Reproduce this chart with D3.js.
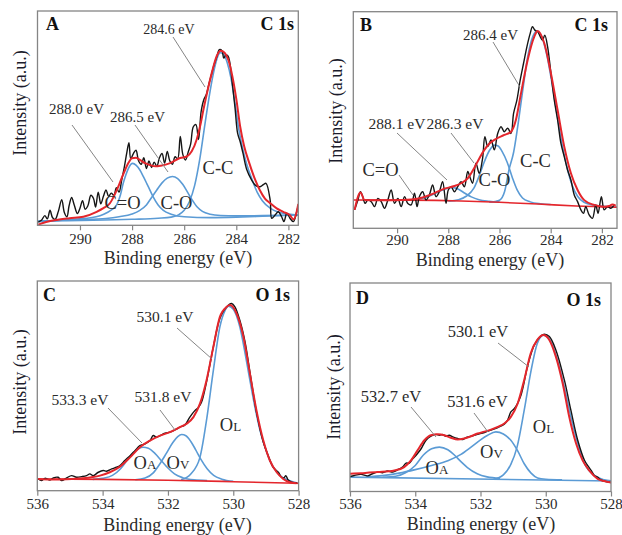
<!DOCTYPE html>
<html>
<head>
<meta charset="utf-8">
<script src="https://cdn.jsdelivr.net/npm/d3@7"></script>
<style>
  body { margin: 0; background: #fff; }
  svg { font-family: "Liberation Serif", "Times New Roman", serif; }
</style>
</head>
<body>
<svg width="622" height="535"></svg>
<script>
// ---- data: [binding energy (eV), intensity (a.u., 0-100 of the frame)] ----
const ticksC1s = [290, 288, 286, 284, 282];
const ticksO1s = [536, 534, 532, 530, 528];

// A: C 1s
const rawA = [[291.60,1.5],[291.47,2.5],[291.35,4.5],[291.25,3.0],[291.15,7.0],[291.05,3.5],[290.95,2.8],[290.83,6.5],[290.70,12.0],[290.60,6.0],[290.50,4.0],[290.42,9.0],[290.32,13.0],[290.22,9.5],[290.10,5.5],[290.00,8.0],[289.90,11.5],[289.80,7.5],[289.70,9.0],[289.58,14.0],[289.48,12.5],[289.40,8.5],[289.30,15.5],[289.20,10.0],[289.10,13.5],[289.00,16.5],[288.90,13.5],[288.80,15.0],[288.70,14.0],[288.60,17.5],[288.50,15.5],[288.40,21.0],[288.30,27.0],[288.20,34.0],[288.12,38.5],[288.05,31.0],[287.95,33.5],[287.85,35.0],[287.75,30.0],[287.65,28.5],[287.55,31.5],[287.45,26.5],[287.35,30.0],[287.25,27.0],[287.15,29.5],[287.05,27.5],[286.95,31.5],[286.85,33.5],[286.75,29.0],[286.65,34.5],[286.55,30.0],[286.45,28.5],[286.35,32.0],[286.25,31.0],[286.15,41.5],[286.05,33.0],[285.95,30.5],[285.85,34.0],[285.75,38.0],[285.65,46.0],[285.55,47.0],[285.45,40.0],[285.35,53.0],[285.25,58.5],[285.15,61.0],[285.05,66.0],[284.95,70.5],[284.85,75.0],[284.75,78.5],[284.65,82.0],[284.55,81.5],[284.48,78.0],[284.40,79.5],[284.32,79.0],[284.25,76.0],[284.15,66.0],[284.05,55.0],[283.95,43.0],[283.85,39.0],[283.75,34.0],[283.60,26.0],[283.41,21.1],[283.25,18.5],[283.09,18.0],[282.96,19.0],[282.86,19.6],[282.70,11.8],[282.64,3.3],[282.51,4.8],[282.39,6.3],[282.26,4.0],[282.17,1.7],[282.06,5.6],[281.94,3.3],[281.81,1.7],[281.68,6.3],[281.62,9.5]];
const fitA = [[291.60,0.3],[291.30,1.5],[290.90,2.5],[290.40,3.3],[289.87,4.0],[289.36,6.3],[289.10,8.0],[288.85,10.3],[288.70,13.5],[288.53,18.0],[288.40,22.0],[288.27,25.8],[288.12,29.5],[288.01,31.3],[287.85,31.5],[287.70,30.5],[287.50,29.0],[287.31,28.1],[287.10,27.5],[286.90,27.8],[286.54,29.0],[286.16,31.4],[285.90,32.1],[285.71,34.5],[285.52,40.0],[285.39,46.2],[285.26,54.0],[285.10,63.0],[284.90,73.0],[284.75,79.0],[284.60,81.5],[284.45,80.5],[284.30,77.0],[284.15,69.5],[284.00,59.0],[283.85,46.0],[283.70,37.0],[283.50,29.0],[283.30,22.0],[283.10,16.5],[282.90,12.5],[282.70,10.3],[282.45,7.9],[282.20,6.3],[281.95,4.8],[281.80,2.8],[281.70,5.5],[281.62,10.0]];
const coA = [[291.60,1.7],[290.80,2.3],[290.00,3.0],[289.60,3.5],[289.23,4.5],[288.95,6.0],[288.75,7.5],[288.59,9.5],[288.45,14.0],[288.34,19.6],[288.24,23.5],[288.14,26.6],[287.98,28.9],[287.84,28.0],[287.70,25.8],[287.57,22.8],[287.44,19.6],[287.31,16.3],[287.19,13.3],[287.00,9.5],[286.80,7.0],[286.50,5.2],[286.00,4.0],[285.00,3.6],[284.00,3.8],[283.00,4.2],[281.62,4.8]];
const cOA = [[291.60,2.0],[290.00,2.6],[289.00,3.2],[288.50,4.0],[288.00,5.3],[287.70,7.0],[287.45,9.5],[287.25,13.0],[287.05,16.5],[286.85,19.8],[286.65,22.0],[286.45,22.8],[286.25,21.8],[286.05,19.0],[285.85,15.0],[285.70,12.0],[285.50,8.5],[285.30,6.5],[285.00,5.2],[284.60,4.6],[284.00,4.4],[283.00,4.5],[281.62,4.8]];
const ccA = [[291.60,2.0],[288.00,2.8],[287.00,3.3],[286.50,3.8],[286.20,5.0],[286.00,7.0],[285.80,11.0],[285.60,18.5],[285.40,31.0],[285.20,47.5],[285.00,63.0],[284.85,72.5],[284.72,78.5],[284.62,80.5],[284.50,80.0],[284.35,76.0],[284.20,68.5],[284.05,57.0],[283.90,44.5],[283.75,35.5],[283.60,28.5],[283.40,21.5],[283.20,15.5],[283.00,11.5],[282.70,8.0],[282.40,6.2],[282.00,5.2],[281.62,4.8]];

// B: C 1s
const rawB = [[291.66,8.5],[291.53,13.1],[291.43,16.9],[291.34,14.6],[291.25,11.5],[291.14,13.1],[291.01,12.3],[290.88,10.0],[290.75,13.8],[290.62,12.3],[290.49,9.2],[290.36,13.1],[290.23,17.7],[290.10,11.5],[289.97,13.8],[289.84,10.0],[289.71,14.6],[289.58,11.5],[289.45,10.8],[289.32,16.2],[289.22,10.0],[289.13,14.6],[289.00,16.9],[288.87,13.1],[288.74,15.4],[288.61,20.0],[288.48,14.6],[288.35,16.9],[288.22,21.5],[288.09,11.5],[288.00,17.7],[287.89,19.2],[287.76,16.9],[287.63,19.2],[287.50,21.5],[287.37,19.2],[287.24,26.2],[287.14,23.1],[287.05,20.8],[286.92,30.0],[286.79,25.4],[286.66,32.3],[286.57,42.3],[286.46,37.7],[286.33,40.8],[286.20,36.2],[286.07,43.8],[285.94,46.9],[285.81,44.6],[285.68,46.2],[285.55,43.8],[285.45,53.1],[285.32,59.2],[285.19,68.5],[285.06,76.2],[284.93,83.8],[284.80,90.0],[284.71,93.1],[284.62,91.5],[284.51,90.8],[284.41,88.5],[284.32,86.9],[284.23,89.2],[284.12,83.8],[283.99,71.5],[283.86,59.2],[283.73,50.0],[283.60,39.2],[283.47,33.1],[283.34,26.9],[283.21,22.3],[283.08,15.4],[282.95,12.3],[282.82,8.5],[282.72,6.9],[282.63,10.0],[282.50,6.2],[282.37,4.6],[282.24,10.8],[282.15,6.9],[282.02,14.6],[281.91,8.5],[281.78,10.0],[281.65,9.2],[281.52,10.8]];
const fitB = [[291.66,8.5],[291.43,16.5],[291.27,13.1],[290.75,13.0],[290.10,13.0],[289.45,13.3],[289.00,14.2],[288.80,15.0],[288.50,16.5],[288.15,18.3],[287.76,19.5],[287.50,20.8],[287.24,23.1],[286.98,28.0],[286.80,32.0],[286.59,36.2],[286.40,39.0],[286.20,40.8],[285.81,43.1],[285.55,44.6],[285.36,50.0],[285.16,62.3],[284.90,77.7],[284.64,88.5],[284.51,91.1],[284.25,85.4],[283.99,71.5],[283.73,54.6],[283.47,37.7],[283.21,25.4],[282.95,17.7],[282.69,13.0],[282.30,10.8],[281.91,10.0],[281.72,10.3],[281.59,11.0],[281.46,10.5]];
const baseB = [[291.70,13.1],[289.50,13.0],[287.50,12.6],[286.00,12.0],[284.50,11.2],[283.00,10.3],[281.40,9.7]];
const coB = [[289.60,13.0],[289.20,13.4],[288.90,14.2],[288.60,15.6],[288.30,17.3],[288.00,18.6],[287.85,18.9],[287.60,18.0],[287.35,16.2],[287.10,14.5],[286.80,13.2],[286.40,12.5],[286.00,12.1]];
const cOB = [[288.00,12.5],[287.60,13.2],[287.30,14.8],[287.00,18.5],[286.80,24.0],[286.60,30.5],[286.40,35.8],[286.20,38.4],[286.05,38.0],[285.90,35.5],[285.70,30.5],[285.50,23.5],[285.30,17.5],[285.10,14.0],[284.80,12.2],[284.40,11.3],[284.00,11.0]];
const ccB = [[286.40,12.0],[286.00,13.0],[285.80,17.0],[285.62,27.5],[285.45,35.0],[285.30,46.0],[285.10,63.0],[284.90,79.0],[284.70,88.5],[284.54,91.0],[284.35,88.5],[284.15,80.0],[283.95,67.0],[283.75,52.5],[283.55,38.5],[283.35,27.5],[283.15,19.5],[282.95,14.8],[282.70,12.0],[282.30,10.6],[281.80,10.0],[281.40,9.7]];

// C: O 1s
const rawC = [[535.97,5.6],[535.87,4.8],[535.77,5.9],[535.61,5.1],[535.51,6.1],[535.36,6.4],[535.26,4.8],[535.10,6.1],[534.95,7.2],[534.80,6.4],[534.64,6.7],[534.49,7.2],[534.39,8.0],[534.29,7.2],[534.13,8.8],[533.98,9.6],[533.88,9.3],[533.72,10.4],[533.57,11.2],[533.47,12.0],[533.32,14.4],[533.16,16.7],[533.01,19.1],[532.86,21.5],[532.70,22.3],[532.55,23.9],[532.45,26.3],[532.35,25.5],[532.24,26.3],[532.09,27.4],[531.94,27.9],[531.79,29.0],[531.63,30.3],[531.48,31.4],[531.33,35.1],[531.17,38.3],[531.07,39.6],[530.97,42.3],[530.82,51.8],[530.61,68.6],[530.41,82.1],[530.22,87.4],[530.05,89.3],[529.95,87.7],[529.80,81.3],[529.64,71.0],[529.49,56.6],[529.29,37.5],[529.08,23.1],[528.93,16.7],[528.78,11.2],[528.62,8.8],[528.52,6.4],[528.45,6.1],[528.39,7.2],[528.32,5.1],[528.21,4.1],[528.06,3.8]];
const fitC = [[535.97,5.6],[535.60,5.4],[535.10,5.5],[534.60,5.9],[534.30,6.5],[534.08,7.2],[533.78,8.8],[533.47,11.5],[533.16,15.9],[532.86,20.7],[532.55,23.9],[532.24,26.3],[531.94,27.9],[531.63,30.3],[531.43,31.9],[531.22,35.1],[531.02,41.5],[530.82,52.6],[530.61,68.6],[530.41,82.9],[530.20,87.7],[530.10,88.5],[529.90,84.5],[529.69,73.4],[529.49,55.8],[529.29,38.3],[529.08,23.9],[528.88,14.4],[528.67,8.8],[528.47,5.6],[528.27,4.0],[528.06,3.5]];
const baseC = [[536.00,5.6],[534.00,5.4],[532.00,5.0],[530.00,4.3],[528.00,3.5]];
const oaC = [[534.30,5.4],[534.00,5.9],[533.70,7.3],[533.45,10.5],[533.25,14.5],[533.05,18.2],[532.90,20.0],[532.76,20.7],[532.60,20.2],[532.40,17.8],[532.20,14.3],[532.00,10.8],[531.80,8.0],[531.55,6.2],[531.20,5.2],[530.80,4.9]];
const ovC = [[533.00,5.2],[532.70,6.0],[532.45,8.5],[532.24,13.0],[532.05,17.8],[531.85,23.0],[531.70,25.8],[531.58,26.8],[531.45,26.2],[531.30,23.5],[531.15,19.5],[531.00,15.2],[530.80,10.5],[530.60,7.3],[530.35,5.5],[530.00,4.5]];
const olC = [[531.60,5.2],[531.30,8.0],[531.02,15.9],[530.82,33.5],[530.61,57.4],[530.41,78.1],[530.25,86.0],[530.15,88.0],[530.00,86.5],[529.80,78.1],[529.65,66.5],[529.49,52.6],[529.30,37.0],[529.18,28.7],[529.00,19.5],[528.88,14.4],[528.57,7.2],[528.27,4.8],[528.00,3.5]];

// D: O 1s
const rawD = [[536.00,7.2],[535.87,7.7],[535.66,8.2],[535.46,7.5],[535.31,8.5],[535.15,9.3],[535.00,9.0],[534.85,9.8],[534.69,9.3],[534.54,10.4],[534.39,11.7],[534.28,13.6],[534.18,13.6],[534.08,15.7],[533.98,17.3],[533.82,20.5],[533.67,24.6],[533.52,26.5],[533.36,27.4],[533.26,27.0],[533.16,27.3],[533.06,26.5],[532.96,27.0],[532.85,26.2],[532.70,25.4],[532.55,24.9],[532.45,25.8],[532.29,26.5],[532.09,27.4],[531.88,28.3],[531.68,29.4],[531.47,30.7],[531.27,32.3],[531.17,34.2],[531.07,38.2],[530.96,39.8],[530.76,46.2],[530.56,59.9],[530.35,70.3],[530.15,74.6],[530.04,75.4],[529.89,74.3],[529.69,67.9],[529.43,53.5],[529.23,39.0],[529.02,24.6],[528.81,14.9],[528.61,10.1],[528.51,7.7],[528.41,6.9],[528.31,5.6],[528.21,5.0],[528.00,4.3]];
const fitD = [[536.00,8.5],[535.66,8.8],[535.15,9.3],[534.64,10.1],[534.34,11.7],[534.13,14.9],[533.93,19.7],[533.72,24.6],[533.52,27.0],[533.31,27.4],[533.11,27.0],[532.91,25.8],[532.70,24.9],[532.50,25.4],[532.29,26.5],[532.09,27.8],[531.88,28.7],[531.68,29.7],[531.47,31.0],[531.27,32.6],[531.07,35.8],[530.86,42.2],[530.66,53.5],[530.46,66.3],[530.26,72.7],[530.07,75.1],[529.89,72.7],[529.69,64.7],[529.48,51.8],[529.28,35.8],[529.07,23.0],[528.87,14.9],[528.67,10.1],[528.41,6.1],[528.21,5.0],[528.00,4.3]];
const baseD = [[536.00,6.9],[528.00,5.0]];
const oaD = [[535.00,6.8],[534.60,7.3],[534.30,9.0],[534.00,12.5],[533.75,17.5],[533.50,20.5],[533.26,21.3],[533.00,20.0],[532.80,17.5],[532.60,14.3],[532.40,11.5],[532.10,8.5],[531.80,7.0],[531.40,6.3]];
const ovD = [[535.50,7.0],[535.00,7.6],[534.50,8.8],[534.00,10.5],[533.50,12.5],[533.00,14.8],[532.60,17.8],[532.29,21.3],[532.00,24.8],[531.78,27.0],[531.53,28.6],[531.30,27.6],[531.07,24.6],[530.86,19.5],[530.66,13.3],[530.45,8.8],[530.25,6.5],[530.00,5.9],[529.50,5.6]];
const olD = [[531.60,5.9],[531.30,8.0],[531.07,13.0],[530.88,21.3],[530.66,39.0],[530.45,58.0],[530.26,71.0],[530.07,75.0],[529.84,71.9],[529.64,63.0],[529.43,50.0],[529.23,35.8],[529.02,23.0],[528.81,13.3],[528.51,7.7],[528.21,5.6],[528.00,5.1]];

const peakLabelsA = ['284.6 eV', '288.0 eV', '286.5 eV'];
const peakLabelsB = ['286.4 eV', '288.1 eV', '286.3 eV'];
const peakLabelsC = ['530.1 eV', '533.3 eV', '531.8 eV'];
const peakLabelsD = ['530.1 eV', '532.7 eV', '531.6 eV'];

// ---- layout ----
const RED = '#e4262c', BLUE = '#5b9bd5', BLACK = '#151515', GREY = '#858585', TXT = '#2a2a2a';

const panels = [
  { letter: 'A', title: 'C 1s', box: [37.5, 11, 298.3, 225.3], domain: [291.63, 281.62], ticks: ticksC1s,
    raw: rawA, fit: fitA, comps: [coA, cOA, ccA], base: null, pad: 3,
    titleXY: [46, 30, 294, 30], ylab: [20, 103], xlab: [178, 258],
    peaks: [{ t: peakLabelsA[0], x: 169, y: 29, s: 14, l: [173, 37, 205, 87] },
            { t: peakLabelsA[1], x: 76.5, y: 109, s: 15, l: [72, 125, 113, 182] },
            { t: peakLabelsA[2], x: 137.5, y: 117, s: 15, l: [135, 125, 168, 172] }],
    names: [{ t: 'C-C', x: 218, y: 168 }, { t: 'C=O', x: 122.5, y: 203 }, { t: 'C-O', x: 176.5, y: 203 }] },
  { letter: 'B', title: 'C 1s', box: [353.3, 11.7, 617, 228.3], domain: [291.71, 281.41], ticks: ticksC1s,
    raw: rawB, fit: fitB, comps: [coB, cOB, ccB], base: baseB, baseColor: RED, pad: 1.5,
    titleXY: [360, 31, 608, 31], ylab: [336, 111], xlab: [490, 260],
    peaks: [{ t: peakLabelsB[0], x: 490.5, y: 35, s: 15, l: [493, 42, 520, 87] },
            { t: peakLabelsB[1], x: 397, y: 124, s: 15.5, l: [397, 133, 447, 180] },
            { t: peakLabelsB[2], x: 455, y: 124, s: 15.5, l: [451, 133, 474, 163] }],
    names: [{ t: 'C=O', x: 380.5, y: 170, l: [399, 175, 413, 195] }, { t: 'C-O', x: 494.5, y: 180 }, { t: 'C-C', x: 535.5, y: 161 }] },
  { letter: 'C', title: 'O 1s', box: [37.3, 281, 298.6, 490.7], domain: [536, 528], ticks: ticksO1s,
    raw: rawC, fit: fitC, comps: [oaC, ovC, olC], base: baseC, baseColor: RED, pad: 3,
    titleXY: [43, 301, 290, 301], ylab: [20, 382], xlab: [177.5, 525],
    peaks: [{ t: peakLabelsC[0], x: 165, y: 317, s: 15.5, l: [177, 328, 212, 359] },
            { t: peakLabelsC[1], x: 80, y: 400, s: 15.5, l: [108, 408, 142, 443] },
            { t: peakLabelsC[2], x: 163, y: 397, s: 15.5, l: [160, 410, 175, 430] }],
    names: [{ t: 'O', sub: 'A', x: 145, y: 463 }, { t: 'O', sub: 'V', x: 178, y: 463 }, { t: 'O', sub: 'L', x: 230.5, y: 425 }] },
  { letter: 'D', title: 'O 1s', box: [350, 283, 611, 491.5], domain: [536, 528], ticks: ticksO1s,
    raw: rawD, fit: fitD, comps: [oaD, ovD, olD], base: baseD, baseColor: BLUE, pad: 1.5,
    titleXY: [356, 304, 601, 306], ylab: [334, 387], xlab: [481, 524],
    peaks: [{ t: peakLabelsD[0], x: 478, y: 332, s: 16.5, l: [498, 343, 529, 367] },
            { t: peakLabelsD[1], x: 391, y: 397, s: 16.5, l: [411, 407, 436, 437] },
            { t: peakLabelsD[2], x: 477.5, y: 402, s: 16.5, l: [474, 413, 488, 432] }],
    names: [{ t: 'O', sub: 'A', x: 437, y: 468 }, { t: 'O', sub: 'V', x: 491.5, y: 452 }, { t: 'O', sub: 'L', x: 543.5, y: 427 }] }
];

const svg = d3.select('svg');
const defs = svg.append('defs');

panels.forEach((p, i) => {
  const [x0, y0, x1, y1] = p.box;
  const x = d3.scaleLinear().domain(p.domain).range([x0, x1]);
  const y = d3.scaleLinear().domain([0, 100]).range([y1, y0]);
  const g = svg.append('g');

  defs.append('clipPath').attr('id', 'clip' + i)
    .append('rect').attr('x', x0).attr('y', y0).attr('width', x1 - x0).attr('height', y1 - y0);

  const fitLine = d3.line().x(d => x(d[0])).y(d => y(d[1])).curve(d3.curveMonotoneX);
  const rawLine = d3.line().x(d => x(d[0])).y(d => y(d[1])).curve(d3.curveCatmullRom.alpha(0.5));

  const plot = g.append('g').attr('clip-path', `url(#clip${i})`);
  plot.selectAll('path.comp').data(p.comps).enter().append('path')
    .attr('class', 'comp').attr('d', fitLine)
    .attr('fill', 'none').attr('stroke', BLUE).attr('stroke-width', 1.6);
  if (p.base) {
    plot.append('path').datum(p.base).attr('d', fitLine)
      .attr('fill', 'none').attr('stroke', p.baseColor).attr('stroke-width', 1.6);
  }
  plot.append('path').datum(p.raw).attr('d', rawLine)
    .attr('fill', 'none').attr('stroke', BLACK).attr('stroke-width', 1.4);
  plot.append('path').datum(p.fit).attr('d', fitLine)
    .attr('fill', 'none').attr('stroke', RED).attr('stroke-width', 2);

  // axis
  const ax = g.append('g').attr('transform', `translate(0,${y1})`)
    .call(d3.axisBottom(x).tickValues(p.ticks).tickSize(5).tickSizeOuter(0).tickPadding(p.pad).tickFormat(d3.format('d')));
  ax.select('.domain').remove();
  ax.selectAll('line').attr('stroke', GREY).attr('stroke-width', 1.2);
  ax.selectAll('text').attr('font-family', '"Liberation Serif", serif').attr('font-size', 15).attr('fill', TXT);

  // frame
  g.append('rect').attr('x', x0).attr('y', y0).attr('width', x1 - x0).attr('height', y1 - y0)
    .attr('fill', 'none').attr('stroke', GREY).attr('stroke-width', 1.3);

  // panel letter and title
  g.append('text').attr('x', p.titleXY[0]).attr('y', p.titleXY[1]).attr('font-weight', 'bold')
    .attr('font-size', 18).attr('fill', '#111').text(p.letter);
  g.append('text').attr('x', p.titleXY[2]).attr('y', p.titleXY[3]).attr('font-weight', 'bold')
    .attr('text-anchor', 'end').attr('font-size', 18).attr('fill', '#111').text(p.title);

  // axis titles
  g.append('text').attr('transform', `translate(${p.ylab[0] + 6},${p.ylab[1]}) rotate(-90)`)
    .attr('text-anchor', 'middle').attr('font-size', 18).attr('fill', '#1c1c2c').text('Intensity (a.u.)');
  g.append('text').attr('x', p.xlab[0]).attr('y', p.xlab[1] + 6).attr('text-anchor', 'middle')
    .attr('font-size', 18).attr('fill', TXT).text('Binding energy (eV)');

  // peak position labels with leader lines
  p.peaks.forEach(pk => {
    g.append('line').attr('x1', pk.l[0]).attr('y1', pk.l[1]).attr('x2', pk.l[2]).attr('y2', pk.l[3])
      .attr('stroke', GREY).attr('stroke-width', 1);
    g.append('text').attr('x', pk.x).attr('y', pk.y + pk.s * 0.33).attr('text-anchor', 'middle')
      .attr('font-size', pk.s).attr('fill', TXT).text(pk.t);
  });

  // component names
  p.names.forEach(n => {
    if (n.l) g.append('line').attr('x1', n.l[0]).attr('y1', n.l[1]).attr('x2', n.l[2]).attr('y2', n.l[3])
      .attr('stroke', GREY).attr('stroke-width', 1);
    const t = g.append('text').attr('x', n.x).attr('y', n.y + 6).attr('text-anchor', 'middle')
      .attr('font-size', 18.5).attr('fill', TXT);
    t.append('tspan').text(n.t);
    if (n.sub) t.append('tspan').attr('font-size', 13).text(n.sub);
  });
});
</script>
</body>
</html>
